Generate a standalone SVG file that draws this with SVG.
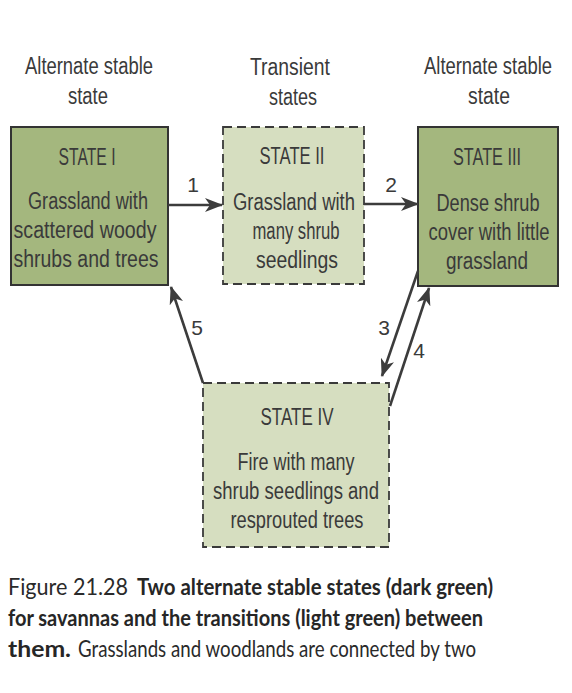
<svg xmlns="http://www.w3.org/2000/svg" width="572" height="693" viewBox="0 0 572 693">
<style>
.t{font-family:"Liberation Sans",Arial,sans-serif;font-size:23px;fill:#3a3a3a;text-anchor:middle}
.n{font-family:"Liberation Sans",Arial,sans-serif;font-size:21px;fill:#3a3a3a;text-anchor:middle}
.dark{fill:#a4b77e;stroke:#333;stroke-width:2}
.light{fill:#d6dec0;stroke:#3a3a3a;stroke-width:1.8;stroke-dasharray:9 5}
.c{stroke:#3c3c3c;stroke-width:2.6;fill:none}
.cap{font-family:Lato,"Open Sans",sans-serif;font-size:23px;fill:#2a2a2a}
.capb{font-family:Lato,"Open Sans",sans-serif;font-size:22px;font-weight:bold;fill:#262626}
</style>
<defs>
<marker id="ah" viewBox="0 0 18 14" refX="17" refY="7" markerWidth="18" markerHeight="14" markerUnits="userSpaceOnUse" orient="auto">
<path d="M0,0 L18,7 L0,14 L5,7 z" fill="#3c3c3c"/>
</marker>
</defs>
<rect width="572" height="693" fill="#ffffff"/>
<g id="headers">
<text class="t" x="89" y="74" textLength="128" lengthAdjust="spacingAndGlyphs">Alternate stable</text>
<text class="t" x="88" y="104" textLength="40" lengthAdjust="spacingAndGlyphs">state</text>
<text class="t" x="290" y="75" textLength="80" lengthAdjust="spacingAndGlyphs">Transient</text>
<text class="t" x="293" y="105" textLength="48" lengthAdjust="spacingAndGlyphs">states</text>
<text class="t" x="488" y="74" textLength="128" lengthAdjust="spacingAndGlyphs">Alternate stable</text>
<text class="t" x="489" y="104" textLength="42" lengthAdjust="spacingAndGlyphs">state</text>
</g>
<g id="state1">
<rect class="dark" x="11" y="127" width="157" height="158"/>
<text class="t" x="87" y="165" textLength="57" lengthAdjust="spacingAndGlyphs">STATE I</text>
<text class="t" x="88" y="209" textLength="120" lengthAdjust="spacingAndGlyphs">Grassland with</text>
<text class="t" x="85" y="238" textLength="143" lengthAdjust="spacingAndGlyphs">scattered woody</text>
<text class="t" x="86" y="267" textLength="145" lengthAdjust="spacingAndGlyphs">shrubs and trees</text>
</g>
<g id="state2">
<rect class="light" x="223" y="127" width="141" height="157"/>
<text class="t" x="292" y="164" textLength="65" lengthAdjust="spacingAndGlyphs">STATE II</text>
<text class="t" x="294" y="210" textLength="122" lengthAdjust="spacingAndGlyphs">Grassland with</text>
<text class="t" x="296" y="239" textLength="87" lengthAdjust="spacingAndGlyphs">many shrub</text>
<text class="t" x="297" y="268" textLength="82" lengthAdjust="spacingAndGlyphs">seedlings</text>
</g>
<g id="state3">
<rect class="dark" x="418" y="127" width="140" height="159"/>
<text class="t" x="487" y="165" textLength="68" lengthAdjust="spacingAndGlyphs">STATE III</text>
<text class="t" x="488" y="211" textLength="103" lengthAdjust="spacingAndGlyphs">Dense shrub</text>
<text class="t" x="489" y="240" textLength="121" lengthAdjust="spacingAndGlyphs">cover with little</text>
<text class="t" x="487" y="269" textLength="82" lengthAdjust="spacingAndGlyphs">grassland</text>
</g>
<g id="state4">
<rect class="light" x="203" y="383" width="186" height="164"/>
<text class="t" x="297" y="425" textLength="73" lengthAdjust="spacingAndGlyphs">STATE IV</text>
<text class="t" x="296" y="470" textLength="117" lengthAdjust="spacingAndGlyphs">Fire with many</text>
<text class="t" x="296" y="499" textLength="166" lengthAdjust="spacingAndGlyphs">shrub seedlings and</text>
<text class="t" x="297" y="528" textLength="133" lengthAdjust="spacingAndGlyphs">resprouted trees</text>
</g>
<g id="connectors">
<line class="c" x1="168" y1="205" x2="222" y2="205" marker-end="url(#ah)"/>
<line class="c" x1="364" y1="204" x2="418" y2="204" marker-end="url(#ah)"/>
<line class="c" x1="418" y1="271" x2="382" y2="376" marker-end="url(#ah)"/>
<line class="c" x1="390" y1="406" x2="429" y2="288" marker-end="url(#ah)"/>
<line class="c" x1="203" y1="383" x2="171" y2="287" marker-end="url(#ah)"/>
<text class="n" x="193" y="192">1</text>
<text class="n" x="391" y="192">2</text>
<text class="n" x="384" y="335">3</text>
<text class="n" x="419" y="358">4</text>
<text class="n" x="197" y="335">5</text>
</g>
<g id="caption">
<text class="cap" x="8" y="595" textLength="120" lengthAdjust="spacingAndGlyphs">Figure 21.28</text>
<text class="capb" x="137" y="595" textLength="356" lengthAdjust="spacingAndGlyphs">Two alternate stable states (dark green)</text>
<text class="capb" x="8" y="626" textLength="475" lengthAdjust="spacingAndGlyphs">for savannas and the transitions (light green) between</text>
<text class="capb" x="8" y="657" textLength="63" lengthAdjust="spacingAndGlyphs">them.</text>
<text class="cap" x="78" y="657" textLength="398" lengthAdjust="spacingAndGlyphs">Grasslands and woodlands are connected by two</text>
</g>
</svg>
